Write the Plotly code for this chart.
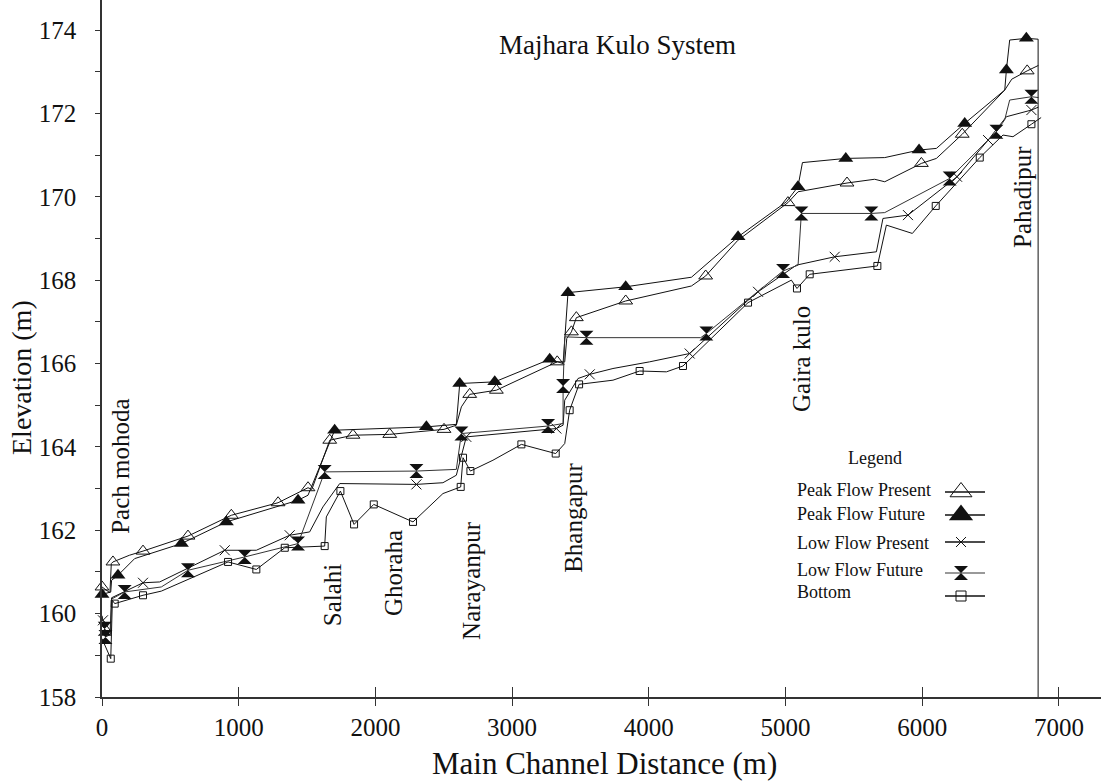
import plotly.graph_objects as go

# ---------------- data ----------------
# Peak Flow Present profile (distance m, elevation m, 1 = surveyed point with marker)
pp_dist = [0, 58, 68, 80, 200, 300, 629, 946, 1288, 1507, 1535, 1666, 1836, 2105, 2502, 2592, 2629,
           2690, 2885, 3330, 3385, 3400, 3434, 3470, 3831, 4312, 4416, 4650, 5018, 5092, 5450, 5652,
           5726, 5994, 6104, 6293, 6604, 6655, 6768, 6850]
pp_elev = [160.64, 160.5, 161.2, 161.24, 161.4, 161.5, 161.86, 162.36, 162.66, 163.02, 162.98, 164.16,
           164.28, 164.3, 164.42, 164.52, 164.96, 165.26, 165.36, 166.04, 166.04, 166.6, 166.76, 167.1,
           167.5, 167.86, 168.1, 168.95, 169.86, 170.12, 170.33, 170.42, 170.36, 170.8, 170.92, 171.5,
           172.56, 172.82, 173.02, 173.15]
pp_mark = [1, 0, 0, 1, 0, 1, 1, 1, 1, 1, 0, 1, 1, 1, 1, 0, 0, 1, 1, 1, 0, 0, 1, 1, 1, 0, 1, 0, 1, 0,
           1, 0, 0, 1, 0, 1, 0, 0, 1, 0]

# Peak Flow Future
pf_dist = [0, 64, 70, 117, 239, 581, 910, 1434, 1507, 1702, 2373, 2592, 2617, 2873, 3275, 3373, 3409,
           3831, 4312, 4653, 5007, 5091, 5124, 5441, 5726, 5977, 6104, 6311, 6604, 6616, 6640, 6762, 6848]
pf_elev = [160.46, 160.52, 160.8, 160.92, 161.32, 161.68, 162.2, 162.72, 162.84, 164.4, 164.48, 164.54,
           165.52, 165.56, 166.1, 166.0, 167.7, 167.84, 168.07, 169.04, 169.88, 170.24, 170.82, 170.92,
           170.94, 171.12, 171.16, 171.76, 172.56, 173.04, 173.76, 173.8, 173.78]
pf_mark = [1, 0, 0, 1, 0, 1, 1, 1, 0, 1, 1, 0, 1, 1, 1, 0, 1, 1, 0, 1, 0, 1, 0, 1, 0, 1, 0, 1, 0, 1,
           0, 1, 0]

# Low Flow Present
lp_dist = [0, 7, 60, 70, 300, 422, 898, 1129, 1373, 1519, 1616, 1739, 2300, 2494, 2592, 2665, 3324,
           3373, 3385, 3482, 3568, 3738, 4006, 4299, 4720, 4799, 5080, 5360, 5665, 5713, 5896, 6104,
           6255, 6482, 6616, 6799, 6850]
lp_elev = [159.95, 159.84, 159.6, 160.38, 160.74, 160.76, 161.52, 161.52, 161.88, 161.96, 162.56, 163.12,
           163.1, 163.14, 163.32, 164.24, 164.44, 164.52, 165.12, 165.64, 165.74, 165.88, 166.04, 166.24,
           167.5, 167.72, 168.36, 168.56, 168.68, 169.48, 169.56, 170.08, 170.48, 171.36, 171.92, 172.08,
           172.15]
lp_mark = [0, 1, 0, 0, 1, 0, 1, 0, 1, 0, 0, 0, 1, 0, 0, 1, 1, 0, 0, 0, 1, 0, 0, 1, 0, 1, 0, 1, 0, 0,
           1, 0, 1, 1, 0, 1, 0]

# Low Flow Future
lf_dist = [0, 20, 25, 62, 70, 166, 434, 629, 1044, 1434, 1629, 2300, 2592, 2629, 3263, 3373, 3373, 3385,
           3544, 4380, 4421, 4982, 5092, 5116, 5628, 5726, 6201, 6543, 6604, 6640, 6799, 6850]
lf_elev = [159.7, 159.64, 159.44, 159.5, 160.35, 160.52, 160.64, 161.04, 161.36, 161.68, 163.4, 163.42,
           163.46, 164.32, 164.5, 164.56, 165.46, 166.64, 166.62, 166.62, 166.72, 168.22, 168.36, 169.6,
           169.6, 169.62, 170.44, 171.56, 171.85, 172.32, 172.4, 172.38]
lf_mark = [0, 1, 1, 0, 0, 1, 0, 1, 1, 1, 1, 1, 0, 1, 1, 0, 1, 0, 1, 0, 1, 1, 0, 1, 1, 0, 1, 1, 0, 0,
           1, 0]

# Bottom
bt_dist = [0, 64, 76, 93, 300, 434, 922, 1129, 1337, 1629, 1641, 1744, 1844, 1988, 2275, 2494, 2624,
           2641, 2695, 2860, 3068, 3319, 3385, 3421, 3490, 3738, 3933, 4129, 4250, 4726, 5043, 5084,
           5177, 5672, 5738, 5928, 6099, 6421, 6591, 6664, 6799, 6870]
bt_elev = [159.4, 158.92, 160.32, 160.24, 160.44, 160.54, 161.24, 161.06, 161.58, 161.62, 162.32, 162.94,
           162.14, 162.62, 162.2, 162.88, 163.04, 163.74, 163.42, 163.68, 164.06, 163.84, 164.08, 164.88,
           165.5, 165.6, 165.82, 165.8, 165.94, 167.46, 168.0, 167.8, 168.14, 168.34, 169.32, 169.12,
           169.78, 170.94, 171.48, 171.44, 171.74, 171.9]
bt_mark = [0, 1, 0, 1, 1, 0, 1, 1, 1, 1, 0, 1, 1, 1, 1, 0, 1, 1, 1, 0, 1, 1, 0, 1, 1, 0, 1, 0, 1, 1,
           0, 1, 1, 1, 0, 0, 1, 1, 0, 0, 1, 0]

# Channel end (Pahadipur)
end_dist = 6848
end_top = 173.78

# Village labels along the channel
village_names = ["Pach mohoda", "Salahi", "Ghoraha", "Narayanpur", "Bhangapur", "Gaira kulo", "Pahadipur"]
village_dist = [130, 1688, 2127, 2704, 3443, 5118, 6728]
village_elev = [163.54, 160.46, 160.97, 160.8, 162.29, 166.1, 169.99]

series_names = ["Peak Flow Present", "Peak Flow Future", "Low Flow Present", "Low Flow Future", "Bottom"]
x_ticks = [0, 1000, 2000, 3000, 4000, 5000, 6000, 7000]
y_ticks = [158, 160, 162, 164, 166, 168, 170, 172, 174]

# ---------------- layout constants ----------------
W, H = 1101, 783
L, R, T, B = 102, 0, 0, 86
FONT = "Liberation Serif"
INK = "#111111"


def paper(px, py):
    return (px - L) / (W - L - R), (H - B - py) / (H - T - B)


styles = [
    dict(symbol="triangle-up-open", size=12, lsize=19, color=INK, lw=1),
    dict(symbol="triangle-up", size=13, lsize=21, color=INK, lw=0),
    dict(symbol="x-thin-open", size=10, lsize=10, color=INK, lw=1),
    dict(symbol="hourglass", size=14, lsize=14, color=INK, lw=0),
    dict(symbol="square-open", size=7, lsize=10, color=INK, lw=1),
]
line_colors = ["#111111", "#111111", "#111111", "#333333", "#111111"]

fig = go.Figure()

all_series = [(pp_dist, pp_elev, pp_mark), (pf_dist, pf_elev, pf_mark), (lp_dist, lp_elev, lp_mark),
              (lf_dist, lf_elev, lf_mark), (bt_dist, bt_elev, bt_mark)]

for (d, e, m), st, lc, nm in zip(all_series, styles, line_colors, series_names):
    fig.add_trace(go.Scatter(x=d, y=e, mode="lines", line=dict(color=lc, width=1),
                             showlegend=False, hoverinfo="skip", cliponaxis=False))
    md = [a for a, k in zip(d, m) if k]
    me = [b for b, k in zip(e, m) if k]
    fig.add_trace(go.Scatter(x=md, y=me, mode="markers", name=nm, showlegend=False, cliponaxis=False,
                             marker=dict(symbol=st["symbol"], size=st["size"], color=st["color"],
                                         line=dict(color=INK, width=st["lw"]))))

# channel end vertical line
fig.add_trace(go.Scatter(x=[end_dist, end_dist], y=[y_ticks[0], end_top], mode="lines",
                         line=dict(color=INK, width=1), showlegend=False, hoverinfo="skip", cliponaxis=False))

# dummy trace for inner x ticks
fig.add_trace(go.Scatter(x=[], y=[], xaxis="x3", yaxis="y", showlegend=False))

# ---------------- hand-drawn legend (pixel axes x2/y2) ----------------
leg_rows_y = [492, 515, 542, 573, 596]
leg_text_y = [490, 514, 543, 570, 592]
leg_line_x = [945, 985]
leg_mark_x = 961
leg_line_colors = ["#111111", "#111111", "#111111", "#777777", "#111111"]
for i, st in enumerate(styles):
    fig.add_trace(go.Scatter(x=leg_line_x, y=[leg_rows_y[i]] * 2, mode="lines", xaxis="x2", yaxis="y2",
                             line=dict(color=leg_line_colors[i], width=1.5), showlegend=False,
                             hoverinfo="skip", cliponaxis=False))
    fig.add_trace(go.Scatter(x=[leg_mark_x], y=[leg_rows_y[i]], mode="markers", xaxis="x2", yaxis="y2",
                             marker=dict(symbol=st["symbol"], size=st["lsize"], color=st["color"],
                                         line=dict(color=INK, width=st["lw"])),
                             showlegend=False, hoverinfo="skip", cliponaxis=False))

ann = []
for nm, ty in zip(series_names, leg_text_y):
    px, py = paper(795, ty)
    ann.append(dict(text=nm, x=px, y=py, xref="paper", yref="paper", xanchor="left", yanchor="middle",
                    showarrow=False, font=dict(family=FONT, size=18, color=INK)))
px, py = paper(875, 458)
ann.append(dict(text="Legend", x=px, y=py, xref="paper", yref="paper", xanchor="center", yanchor="middle",
                showarrow=False, font=dict(family=FONT, size=18, color=INK)))

# title and axis titles
px, py = paper(617, 45)
ann.append(dict(text="Majhara Kulo System", x=px, y=py, xref="paper", yref="paper", showarrow=False,
                xanchor="center", yanchor="middle", font=dict(family=FONT, size=27, color=INK)))
px, py = paper(604, 763)
ann.append(dict(text="Main Channel Distance (m)", x=px, y=py, xref="paper", yref="paper", showarrow=False,
                xanchor="center", yanchor="middle", font=dict(family=FONT, size=31, color=INK)))
px, py = paper(22, 378)
ann.append(dict(text="Elevation (m)", x=px, y=py, xref="paper", yref="paper", showarrow=False,
                textangle=-90, xanchor="center", yanchor="middle", font=dict(family=FONT, size=28, color=INK)))

# village labels
for nm, d, e in zip(village_names, village_dist, village_elev):
    ann.append(dict(text=nm, x=d, y=e, xref="x", yref="y", showarrow=False, textangle=-90,
                    xanchor="center", yanchor="middle", font=dict(family=FONT, size=25, color=INK)))

x_range = [0, 7308]
y_range = [158, 174.72]

fig.update_layout(
    width=W, height=H,
    margin=dict(l=L, r=R, t=T, b=B, pad=0),
    paper_bgcolor="white", plot_bgcolor="white",
    showlegend=False,
    annotations=ann,
    font=dict(family=FONT, color=INK),
    xaxis=dict(range=x_range, tickvals=x_ticks, ticktext=[str(v) for v in x_ticks], ticks="outside",
               ticklen=7, tickwidth=1, tickcolor="#333", showline=True, linecolor="#333", linewidth=1.5,
               showgrid=False, zeroline=False, tickfont=dict(family=FONT, size=25, color=INK)),
    xaxis3=dict(overlaying="x", matches="x", anchor="y", ticks="inside", ticklen=10, tickwidth=1,
                tickcolor="#333", tickvals=x_ticks, showticklabels=False, showline=False, showgrid=False,
                zeroline=False),
    yaxis=dict(range=y_range, tickvals=y_ticks, ticks="outside", ticklen=5, tickwidth=1, tickcolor="#333",
               minor=dict(dtick=1, ticks="outside", ticklen=5, tickcolor="#333", showgrid=False),
               showline=True, linecolor="#333", linewidth=1.5, showgrid=False, zeroline=False,
               ticklabelstandoff=14, tickfont=dict(family=FONT, size=25, color=INK)),
    xaxis2=dict(overlaying="x", range=[L, W - R], visible=False, anchor="y2"),
    yaxis2=dict(overlaying="y", range=[H - B, T], visible=False, anchor="x2"),
)

fig.write_html("out.html", config={"displayModeBar": False},
               post_script="document.body.style.margin='0px';document.body.style.padding='0px';")
